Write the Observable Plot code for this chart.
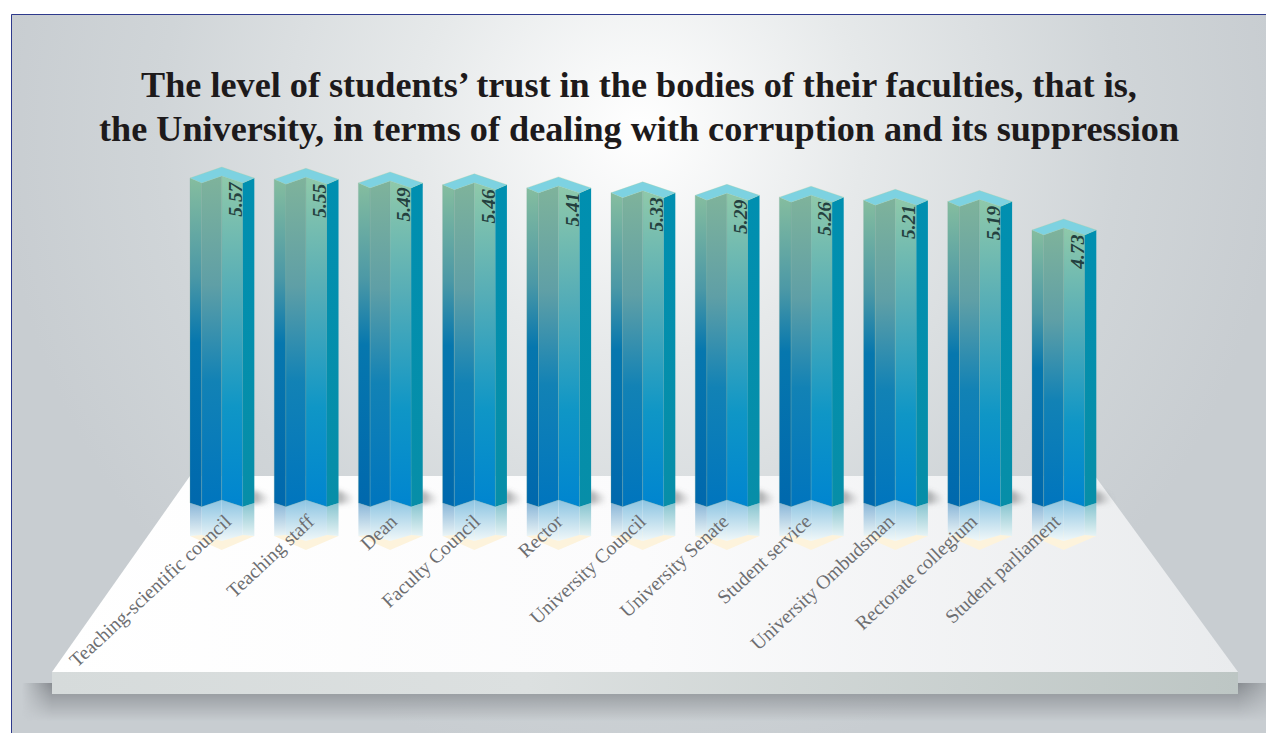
<!DOCTYPE html>
<html>
<head>
<meta charset="utf-8">
<script src="https://cdn.jsdelivr.net/npm/d3@7"></script>
<script src="https://cdn.jsdelivr.net/npm/@observablehq/plot@0.6"></script>
<style>
  html, body { margin: 0; padding: 0; background: #fff; }
  #stage { position: relative; width: 1266px; height: 733px; overflow: hidden; }
  #backdrop, #stage > svg.plot { position: absolute; left: 0; top: 0; }
  #title {
    position: absolute; left: 0; top: 62.5px; width: 1278px; text-align: center;
    font: bold 36.2px/44px "Liberation Serif", serif; color: #1d1a1b; margin: 0;
  }
</style>
</head>
<body>
<div id="stage">
<svg id="backdrop" width="1266" height="733" xmlns="http://www.w3.org/2000/svg">
  <defs>
    <radialGradient id="wall" gradientUnits="userSpaceOnUse" cx="640" cy="130" r="640">
      <stop offset="0" stop-color="#ffffff"/>
      <stop offset="0.35" stop-color="#e6e9ea"/>
      <stop offset="0.75" stop-color="#d0d5d8"/>
      <stop offset="1" stop-color="#c8cdd1"/>
    </radialGradient>
    <linearGradient id="deck" x1="0" x2="1" y1="0" y2="0">
      <stop offset="0" stop-color="#ffffff"/>
      <stop offset="0.5" stop-color="#fbfbfc"/>
      <stop offset="1" stop-color="#e9ebed"/>
    </linearGradient>
    <linearGradient id="edge" x1="0" x2="1" y1="0" y2="0">
      <stop offset="0" stop-color="#d6dbdb"/>
      <stop offset="0.4" stop-color="#dce0e0"/>
      <stop offset="1" stop-color="#bdc6c4"/>
    </linearGradient>
    <linearGradient id="sideLeft" x1="0" x2="1" y1="0" y2="0">
      <stop offset="0" stop-color="#7e8287" stop-opacity="0"/>
      <stop offset="1" stop-color="#7e8287" stop-opacity="1"/>
    </linearGradient>
    <linearGradient id="sideRight" x1="0" x2="1" y1="0" y2="0">
      <stop offset="0" stop-color="#7e8287" stop-opacity="1"/>
      <stop offset="1" stop-color="#7e8287" stop-opacity="0.45"/>
    </linearGradient>
    <linearGradient id="fadeDown" x1="0" x2="0" y1="0" y2="1">
      <stop offset="0" stop-color="#e0e0e0"/>
      <stop offset="1" stop-color="#000"/>
    </linearGradient>
    <mask id="fadeMask" maskUnits="userSpaceOnUse" x="0" y="683" width="1266" height="38">
      <rect x="0" y="683" width="1266" height="38" fill="url(#fadeDown)"/>
    </mask>
    <filter id="soft" x="-50%" y="-50%" width="200%" height="200%">
      <feGaussianBlur stdDeviation="2.5"/>
    </filter>
    <linearGradient id="faceA" x1="0" x2="0" y1="0" y2="1">
      <stop offset="0" stop-color="#85bd9f"/>
      <stop offset="0.3" stop-color="#4b98a6"/>
      <stop offset="0.5" stop-color="#0677ae"/>
      <stop offset="1" stop-color="#0068ad"/>
    </linearGradient>
    <linearGradient id="faceB" x1="0" x2="0" y1="0" y2="1">
      <stop offset="0" stop-color="#7fb39b"/>
      <stop offset="0.33" stop-color="#5f9fa6"/>
      <stop offset="0.62" stop-color="#1282b5"/>
      <stop offset="1" stop-color="#0075be"/>
    </linearGradient>
    <linearGradient id="faceC" x1="0" x2="0" y1="0" y2="1">
      <stop offset="0" stop-color="#8fc9aa"/>
      <stop offset="0.35" stop-color="#55adb7"/>
      <stop offset="0.7" stop-color="#0f96c6"/>
      <stop offset="1" stop-color="#0085d0"/>
    </linearGradient>
    <linearGradient id="faceD" x1="0" x2="0" y1="0" y2="1">
      <stop offset="0" stop-color="#008fb0"/>
      <stop offset="1" stop-color="#078ea8"/>
    </linearGradient>
    <linearGradient id="mirrorA" x1="0" x2="0" y1="0" y2="1">
      <stop offset="0" stop-color="#8ab6d8"/>
      <stop offset="1" stop-color="#eaf4f6"/>
    </linearGradient>
    <linearGradient id="mirrorB" x1="0" x2="0" y1="0" y2="1">
      <stop offset="0" stop-color="#8cc4e2"/>
      <stop offset="1" stop-color="#f1f8f9"/>
    </linearGradient>
    <linearGradient id="mirrorD" x1="0" x2="0" y1="0" y2="1">
      <stop offset="0" stop-color="#86c4cf"/>
      <stop offset="1" stop-color="#e6f3f5"/>
    </linearGradient>
    <linearGradient id="contact" x1="0" x2="1" y1="0" y2="0">
      <stop offset="0" stop-color="#55585c" stop-opacity="0.6"/>
      <stop offset="1" stop-color="#888" stop-opacity="0"/>
    </linearGradient>
  </defs>
  <!-- wall behind the platform, with the thin navy rule along its top and left -->
  <rect x="11" y="14" width="1255" height="719" fill="url(#wall)"/>
  <path d="M11.5 733V14.5H1266" fill="none" stroke="#2e3a8c" stroke-width="1"/>
  <!-- shadow cast by the platform -->
  <g mask="url(#fadeMask)">
    <rect x="22" y="683" width="30" height="38" fill="url(#sideLeft)"/>
    <rect x="1238" y="683" width="28" height="38" fill="url(#sideRight)"/>
    <rect x="52" y="683" width="1186" height="38" fill="#7e8287"/>
  </g>
  <!-- platform top and front edge -->
  <polygon points="190,476 1095,476 1238,672 52,672" fill="url(#deck)"/>
  <rect x="52" y="672" width="1186" height="22" fill="url(#edge)"/>
</svg>
<h1 id="title">The level of students’ trust in the bodies of their faculties, that is,<br>the University, in terms of dealing with corruption and its suppression</h1>
</div>
<script>
// Average trust score for each university body
const bodies = [
  "Teaching-scientific council", "Teaching staff", "Dean", "Faculty Council", "Rector",
  "University Council", "University Senate", "Student service", "University Ombudsman",
  "Rectorate collegium", "Student parliament"
];
const scores = [5.57, 5.55, 5.49, 5.46, 5.41, 5.33, 5.29, 5.26, 5.21, 5.19, 4.73];

// The columns stand on a floor that sits a little above zero on the value axis
const axisFloor = 0.32;
const rows = bodies.map((body, i) => ({body, score: scores[i]}));

// Draws each column as a folded prism with a lit cap and a mirror image on the platform
function prism(index, scales) {
  const svgNS = "http://www.w3.org/2000/svg";
  const g = document.createElementNS(svgNS, "g");
  const w = scales.x.bandwidth();
  const folds = [0, 0.182, 0.493, 0.82, 1];
  const crown = [0, 5, -2, 5, 0];
  const foot = [0, 3.7, -3, 3.7, 0];
  const mirrorEdge = [33, 32, 38, 32, 33];
  const add = (pts, fill, stroke, filter) => {
    const p = document.createElementNS(svgNS, "polygon");
    p.setAttribute("points", pts.map(q => q.join(",")).join(" "));
    p.setAttribute("fill", fill);
    if (stroke) {
      p.setAttribute("stroke", stroke);
      p.setAttribute("stroke-width", "0.6");
      p.setAttribute("stroke-opacity", "0.45");
    }
    if (filter) p.setAttribute("filter", filter);
    g.appendChild(p);
  };
  const faceFills = ["url(#faceA)", "url(#faceB)", "url(#faceC)", "url(#faceD)"];
  const mirrorFills = ["url(#mirrorA)", "url(#mirrorB)", "url(#mirrorB)", "url(#mirrorD)"];
  for (const i of index) {
    const x0 = scales.x(rows[i].body);
    const top = scales.y(rows[i].score);
    const base = scales.y(axisFloor);
    const xs = folds.map(f => x0 + f * w);

    // soft contact shadow on the platform, to the right of the column
    add([[xs[4] - 2, base - 13], [xs[4] + 16, base - 7], [xs[4] + 16, base], [xs[4] - 2, base + 1]],
        "url(#contact)", null, "url(#soft)");

    // pale hexagon under the mirrored faces
    add([[xs[0], base + mirrorEdge[0]], [xs[2], base + mirrorEdge[2] - 10], [xs[4], base + mirrorEdge[4]],
         [xs[2], base + mirrorEdge[2] + 9]], "#fdf3dc");

    // mirrored faces fading out
    for (let k = 0; k < 4; k++) {
      add([[xs[k], base + foot[k]], [xs[k + 1], base + foot[k + 1]],
           [xs[k + 1], base + mirrorEdge[k + 1]], [xs[k], base + mirrorEdge[k]]], mirrorFills[k]);
    }

    // the four upright faces
    for (let k = 0; k < 4; k++) {
      add([[xs[k], top + crown[k]], [xs[k + 1], top + crown[k + 1]],
           [xs[k + 1], base + foot[k + 1]], [xs[k], base + foot[k]]],
          faceFills[k], k === 3 ? null : "#7fae9c");
    }

    // cap
    add([[xs[0], top], [xs[2], top - 11], [xs[4], top], [xs[3], top + 5],
         [xs[2], top - 2], [xs[1], top + 5]], "#7dd2e1", "#a8cf9a");
  }
  return g;
}

// Perspective pulls the label ends slightly left along the row
const categoryLabels = bodies.map((body, i) =>
  Plot.text([body], {
    x: d => d,
    y: () => axisFloor,
    text: d => d,
    rotate: -43,
    textAnchor: "end",
    lineAnchor: "middle",
    dx: 5.5 - i * 1.3,
    dy: 15,
    fontFamily: "Liberation Serif",
    fontSize: 19.6,
    fill: "#6d6e71"
  })
);

const chart = Plot.plot({
  width: 1266,
  height: 733,
  marginLeft: 190,
  marginRight: 169.7,
  marginTop: 178,
  marginBottom: 230,
  style: {background: "transparent", overflow: "visible"},
  x: {type: "band", domain: bodies, paddingInner: 0.236, paddingOuter: 0, round: false, axis: null},
  y: {domain: [axisFloor, d3.max(scores)], axis: null},
  marks: [
    Plot.barY(rows, {x: "body", y1: () => axisFloor, y2: "score", render: prism}),
    ...categoryLabels,
    Plot.text(rows, {
      x: "body",
      y: "score",
      text: d => d3.format(".2f")(d.score),
      rotate: -90,
      textAnchor: "end",
      lineAnchor: "middle",
      dx: 13,
      dy: 4,
      fontFamily: "Liberation Serif",
      fontStyle: "italic",
      fontWeight: "bold",
      fontSize: 19.5,
      fill: "#24403f"
    })
  ]
});
chart.classList.add("plot");
document.getElementById("stage").insertBefore(chart, document.getElementById("title"));
</script>
</body>
</html>
